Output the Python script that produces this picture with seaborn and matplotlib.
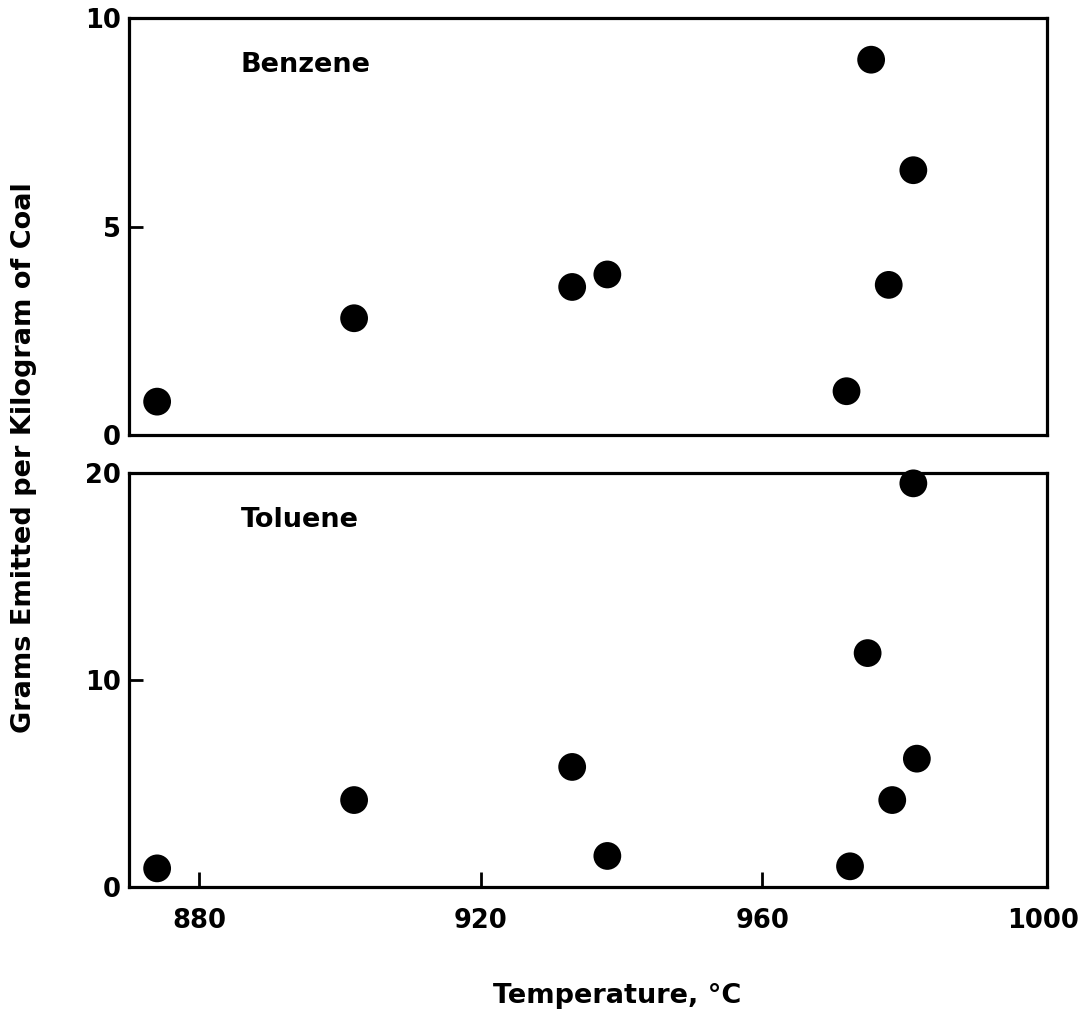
import matplotlib
matplotlib.use("Agg")
import matplotlib.pyplot as plt
import seaborn as sns
import pandas as pd

# ---- data ----
benzene_temp = [874, 902, 933, 938, 972, 975.5, 978, 981.5]
benzene_grams = [0.8, 2.8, 3.55, 3.85, 1.05, 9.0, 3.6, 6.35]

toluene_temp = [874, 902, 933, 938, 972.5, 975, 978.5, 981.5, 982]
toluene_grams = [0.9, 4.2, 5.8, 1.5, 1.0, 11.3, 4.2, 19.5, 6.2]

x_ticks = [880, 920, 960, 1000]
benzene_yticks = [0, 5, 10]
toluene_yticks = [0, 10, 20]

panel_names = ["Benzene", "Toluene"]
y_label = "Grams Emitted per Kilogram of Coal"
x_label = "Temperature, °C"

sns.set_theme(style="ticks")
plt.rcParams['font.family'] = ['DejaVu Sans']
plt.rcParams['font.weight'] = 'bold'
plt.rcParams['text.color'] = 'black'
plt.rcParams['axes.labelcolor'] = 'black'
plt.rcParams['xtick.color'] = 'black'
plt.rcParams['ytick.color'] = 'black'

W, H = 1084, 1014
fig = plt.figure(figsize=(W / 100, H / 100), dpi=100)
left, right = 129, 1047
ax1 = fig.add_axes([left / W, 1 - 435 / H, (right - left) / W, (435 - 18) / H])
ax2 = fig.add_axes([left / W, 1 - 887 / H, (right - left) / W, (887 - 473) / H])

df_b = pd.DataFrame({"temp": benzene_temp, "grams": benzene_grams})
df_t = pd.DataFrame({"temp": toluene_temp, "grams": toluene_grams})

for ax, df, yt, name in [(ax1, df_b, benzene_yticks, panel_names[0]),
                         (ax2, df_t, toluene_yticks, panel_names[1])]:
    sns.scatterplot(data=df, x="temp", y="grams", ax=ax, s=400, color="black",
                    edgecolor="none", linewidth=0, clip_on=False, zorder=3)
    ax.set_xlim(870, 1000.5)
    ax.set_ylim(yt[0], yt[-1])
    ax.set_yticks(yt)
    ax.set_yticklabels([str(v) for v in yt])
    for sp in ax.spines.values():
        sp.set_visible(True)
        sp.set_linewidth(2.3)
        sp.set_color("black")
    ax.tick_params(axis="y", direction="in", length=10, width=2, labelsize=18.5,
                   pad=6, left=True, right=False, colors="black")
    ax.set_xlabel("")
    ax.set_ylabel("")
    ax.text(0.122, 0.887, name, transform=ax.transAxes, fontsize=19.5,
            fontweight="bold", va="center", ha="left", color="black")
    ax.set_facecolor("white")

ax1.set_xticks(x_ticks)
ax1.tick_params(axis="x", bottom=False, labelbottom=False, top=False)

ax2.set_xticks(x_ticks)
ax2.set_xticklabels([str(v) for v in x_ticks])
ax2.tick_params(axis="x", direction="in", length=11, width=2, labelsize=18.5,
                pad=15, bottom=True, top=False, colors="black")
# the 1000 tick coincides with the frame; hide its mark
ax2.xaxis.get_major_ticks()[-1].tick1line.set_visible(False)

ax2.set_xlabel(x_label, fontsize=19.5, fontweight="bold", color="black")
ax2.xaxis.set_label_coords(0.532, -0.232)

fig.text(24 / W, 1 - 458 / H, y_label, rotation=90, fontsize=19.5,
         fontweight="bold", va="center", ha="center", color="black")

fig.savefig("out.png", dpi=100, facecolor="white")
